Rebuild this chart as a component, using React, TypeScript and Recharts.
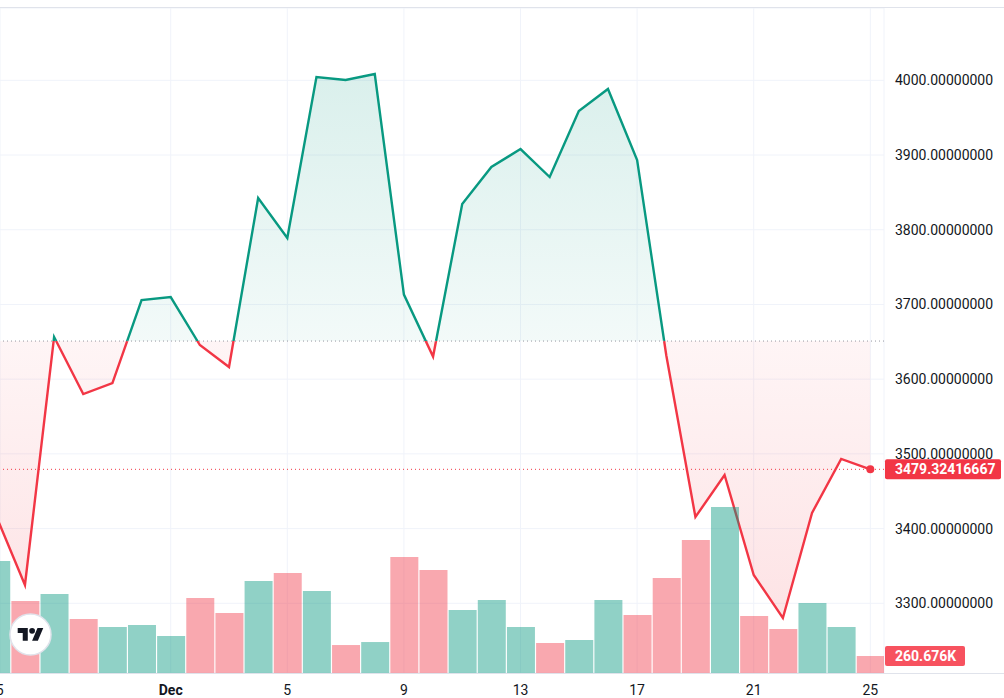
import {
  ComposedChart,
  Area,
  Bar,
  Cell,
  XAxis,
  YAxis,
  CartesianGrid,
  ReferenceLine,
  ReferenceDot,
} from 'recharts';

// Nov 25 .. Dec 25, one point per day
const dayLabels = [
  '25', '26', '27', '28', '29', '30', 'Dec', '2', '3', '4', '5', '6', '7', '8', '9', '10',
  '11', '12', '13', '14', '15', '16', '17', '18', '19', '20', '21', '22', '23', '24', '25',
];
const dayTicks = [0, 6, 10, 14, 18, 22, 26, 30];

const prices = [
  3418, 3324.5, 3656.4, 3580.1, 3594.8, 3705.9, 3709.9, 3645.7, 3616.2, 3842.5, 3788.9,
  4004.4, 4000.4, 4008.4, 3713.2, 3630.2, 3834.4, 3884, 3908, 3870.6, 3958.9, 3988.4,
  3893.3, 3632, 3415.5, 3471.7, 3337.9, 3280.3, 3421, 3493.3, 3479.32416667,
];

// volume, thousands
const volumes = [
  1717, 1104, 1211, 828, 705, 736, 567, 1150, 920, 1411, 1533, 1257, 429, 475, 1779, 1579,
  966, 1119, 705, 460, 506, 1119, 889, 1457, 2039, 2545, 874, 675, 1073, 705, 260.676,
];

const priceTicks = [3300, 3400, 3500, 3600, 3700, 3800, 3900, 4000];
const baseline = 3651;
const lastPrice = prices[prices.length - 1];
const lastVolume = volumes[volumes.length - 1];

const UP = '#089981';
const DOWN = '#F23645';

const rows = prices.map((p, i) => ({ i, price: p, vol: volumes[i] }));

const pMax = Math.max(...prices);
const pMin = Math.min(...prices);
const split = (pMax - baseline) / (pMax - pMin);

function DayTick(props: any) {
  const { x, y, payload } = props;
  const label = dayLabels[payload.value];
  return (
    <text
      x={x}
      y={y}
      dy="0.71em"
      textAnchor="middle"
      fontSize={14}
      fill="#131722"
      fontWeight={label === 'Dec' ? 700 : 400}
    >
      {label}
    </text>
  );
}

function tag(text: string, fill: string, w: number) {
  return (props: any) => {
    const { x, y, width } = props.viewBox;
    return (
      <g>
        <rect x={x + width + 1} y={y - 10} width={w} height={20} rx={2} fill={fill} />
        <text x={x + width + 11} y={y} dy="0.36em" fill="#fff" fontSize={14} fontWeight={700}>
          {text}
        </text>
      </g>
    );
  };
}

export default function App() {
  return (
    <div
      style={{
        position: 'absolute',
        left: 0,
        top: 0,
        width: 1004,
        height: 698,
        background: '#fff',
        overflow: 'hidden',
        fontFamily: 'Roboto, sans-serif',
      }}
    >
      <ComposedChart
        width={1004}
        height={698}
        data={rows}
        margin={{ top: 8, right: 0, bottom: 0, left: 0 }}
      >
        <defs>
          <linearGradient id="fillGrad" x1="0" y1="0" x2="0" y2="1">
            <stop offset={0} stopColor={UP} stopOpacity={0.15} />
            <stop offset={split} stopColor={UP} stopOpacity={0.05} />
            <stop offset={split} stopColor={DOWN} stopOpacity={0.05} />
            <stop offset={1} stopColor={DOWN} stopOpacity={0.14} />
          </linearGradient>
          <linearGradient id="lineGrad" x1="0" y1="0" x2="0" y2="1">
            <stop offset={0} stopColor={UP} />
            <stop offset={split} stopColor={UP} />
            <stop offset={split} stopColor={DOWN} />
            <stop offset={1} stopColor={DOWN} />
          </linearGradient>
        </defs>
        <CartesianGrid stroke="#f0f3fa" yAxisId="p" />
        <XAxis
          dataKey="i"
          type="number"
          domain={[0.144, 30.469]}
          allowDataOverflow
          ticks={dayTicks}
          interval={0}
          tick={<DayTick />}
          axisLine={false}
          tickLine={false}
          tickSize={0}
          tickMargin={12}
          height={25}
        />
        <YAxis
          yAxisId="p"
          orientation="right"
          width={120}
          domain={[3206.7, 4096.8]}
          allowDataOverflow
          ticks={priceTicks}
          interval={0}
          tickFormatter={(v: number) => v.toFixed(8)}
          tick={{ fill: '#131722', fontSize: 14, textAnchor: 'start' }}
          axisLine={false}
          tickLine={false}
          tickSize={0}
          tickMargin={11}
        />
        <YAxis yAxisId="v" hide domain={[0, 10200]} allowDataOverflow />
        <Bar yAxisId="v" dataKey="vol" barSize={28} isAnimationActive={false}>
          {rows.map((r, i) => (
            <Cell
              key={i}
              fill={i === 0 || prices[i] >= prices[i - 1] ? UP : DOWN}
              fillOpacity={i === 0 || prices[i] >= prices[i - 1] ? 0.45 : 0.43}
            />
          ))}
        </Bar>
        <ReferenceLine yAxisId="p" y={baseline} stroke="#9598a1" strokeDasharray="1 3" />
        <Area
          yAxisId="p"
          type="linear"
          dataKey="price"
          baseValue={baseline}
          stroke="url(#lineGrad)"
          strokeWidth={2.4}
          fill="url(#fillGrad)"
          fillOpacity={1}
          dot={false}
          activeDot={false}
          isAnimationActive={false}
        />
        <ReferenceLine
          yAxisId="p"
          y={lastPrice}
          stroke={DOWN}
          strokeDasharray="1 3"
          label={tag(lastPrice.toFixed(8), DOWN, 116)}
        />
        <ReferenceLine
          yAxisId="v"
          y={lastVolume}
          stroke="none"
          label={tag(lastVolume.toFixed(3) + 'K', '#F7525F', 80)}
        />
        <ReferenceDot yAxisId="p" x={30} y={lastPrice} r={4} fill={DOWN} stroke="none" />
      </ComposedChart>
      <div style={{ position: 'absolute', left: 0, top: 7, width: 1004, height: 1, background: '#e0e3eb' }} />
      <div style={{ position: 'absolute', left: 0, top: 673, width: 1004, height: 1, background: '#e0e3eb' }} />
      <svg style={{ position: 'absolute', left: 9, top: 613 }} width={43} height={43}>
        <circle cx={21.5} cy={21.5} r={20.5} fill="#fff" stroke="#e0e3eb" strokeWidth={1.5} />
        <g transform="translate(8.7 12) scale(0.72)">
          <path d="M14 22H7V11H0V4h14v18ZM28 22h-8l7.5-18h8L28 22Z" fill="#131722" />
          <circle cx={20} cy={8} r={4} fill="#131722" />
        </g>
      </svg>
    </div>
  );
}
